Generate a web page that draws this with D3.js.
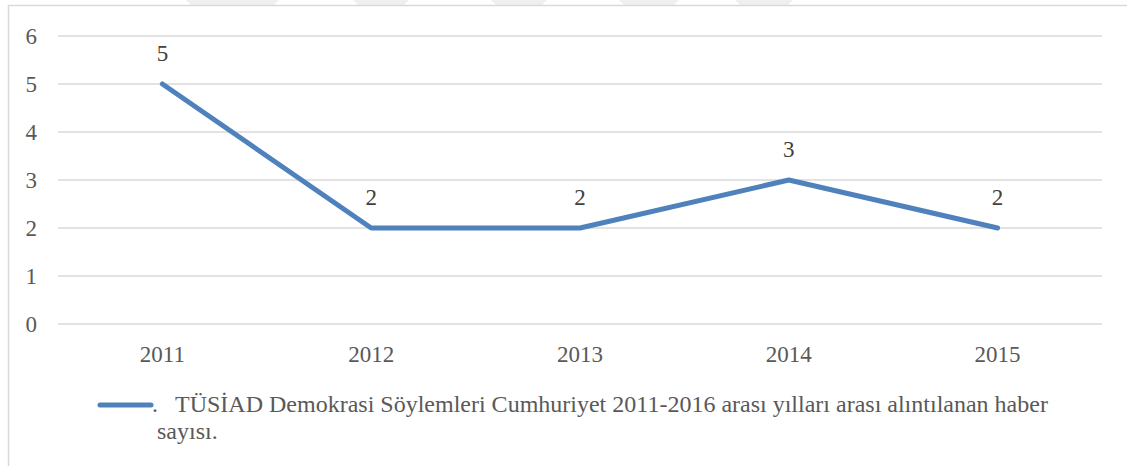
<!DOCTYPE html>
<html>
<head>
<meta charset="utf-8">
<script src="https://cdn.jsdelivr.net/npm/d3@7"></script>
<style>
  body { margin: 0; background: #fff; }
</style>
</head>
<body>
<div id="lineChart"></div>
<script>
var years = ["2011", "2012", "2013", "2014", "2015"];
var counts = [5, 2, 2, 3, 2];
var yTicks = [0, 1, 2, 3, 4, 5, 6];
var seriesName = "TÜSİAD Demokrasi Söylemleri Cumhuriyet 2011-2016 arası yılları arası alıntılanan haber";
var seriesName2 = "sayısı.";

var W = 1127, H = 466;
var FONT = "Liberation Serif, Times New Roman, serif";
var margin = {top: 36, right: 25, bottom: 142, left: 58},
    width = W - margin.left - margin.right,
    height = H - margin.top - margin.bottom;

var root = d3.select("#lineChart").append("svg")
  .attr("width", W).attr("height", H)
  .attr("font-family", FONT);

// faint page watermark bits above the chart frame
var marks = [[186, 279], [353, 409], [491, 547], [619, 679], [735, 793]];
root.selectAll(".wm")
  .data(marks)
  .enter().append("polygon")
    .attr("points", function(d) { return d[0] + ",0 " + d[1] + ",0 " + (d[1] - 5) + ",5 " + (d[0] + 5) + ",5"; })
    .attr("fill", "#efefef");

// outer chart border
root.append("rect")
  .attr("x", 8.5).attr("y", 5.5)
  .attr("width", W + 10).attr("height", H + 10)
  .attr("fill", "none").attr("stroke", "#d9d9d9").attr("stroke-width", 1.5);

var svg = root.append("g")
  .attr("transform", "translate(" + margin.left + "," + margin.top + ")");

var x = d3.scaleBand().domain(years).range([0, width]);
var y = d3.scaleLinear().domain([0, 6]).range([height, 0]);

// gridlines
svg.selectAll(".grid")
  .data(yTicks)
  .enter().append("line")
    .attr("x1", 0).attr("x2", width)
    .attr("y1", function(d) { return y(d); })
    .attr("y2", function(d) { return y(d); })
    .attr("stroke", "#d9d9d9").attr("stroke-width", 1.5);

// y axis labels
var yAxis = svg.append("g")
  .call(d3.axisLeft(y).tickValues(yTicks).tickFormat(d3.format("d")).tickSize(0).tickPadding(21));
yAxis.select(".domain").remove();
yAxis.attr("font-family", FONT);
yAxis.selectAll("text").attr("font-size", 23).attr("fill", "#595959");

// x axis labels
var xAxis = svg.append("g")
  .attr("transform", "translate(0," + height + ")")
  .call(d3.axisBottom(x).tickSize(0).tickPadding(22));
xAxis.select(".domain").remove();
xAxis.attr("font-family", FONT);
xAxis.selectAll("text").attr("font-size", 23).attr("fill", "#595959");

var cx = function(d, i) { return x(years[i]) + x.bandwidth() / 2; };

var line = d3.line().x(cx).y(function(d) { return y(d); });

svg.append("path")
  .datum(counts)
  .attr("d", line)
  .attr("fill", "none")
  .attr("stroke", "#4f81bd")
  .attr("stroke-width", 5)
  .attr("stroke-linecap", "round")
  .attr("stroke-linejoin", "round");

// data labels
svg.selectAll(".lbl")
  .data(counts)
  .enter().append("text")
    .attr("x", cx)
    .attr("y", function(d) { return y(d) - 23; })
    .attr("text-anchor", "middle")
    .attr("font-size", 23)
    .attr("fill", "#404040")
    .text(function(d) { return d; });

// legend
var leg = root.append("g");
leg.append("line")
  .attr("x1", 100).attr("x2", 151)
  .attr("y1", 405).attr("y2", 405)
  .attr("stroke", "#4f81bd").attr("stroke-width", 5)
  .attr("stroke-linecap", "round");
leg.append("text")
  .attr("x", 152).attr("y", 412)
  .attr("font-size", 24).attr("fill", "#595959")
  .text(".");
leg.append("text")
  .attr("x", 175).attr("y", 412)
  .attr("font-size", 24).attr("fill", "#595959")
  .text(seriesName);
leg.append("text")
  .attr("x", 157).attr("y", 439)
  .attr("font-size", 24).attr("fill", "#595959")
  .text(seriesName2);
</script>
</body>
</html>
